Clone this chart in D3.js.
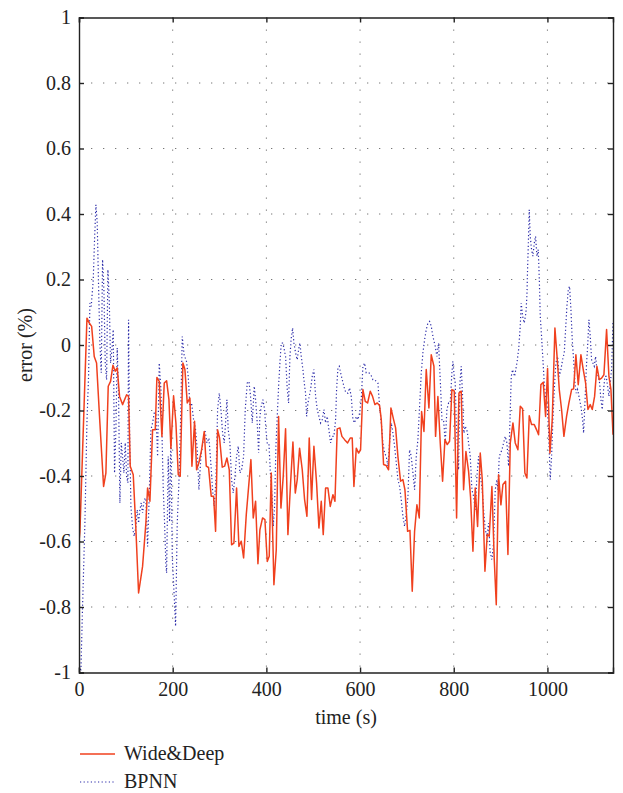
<!DOCTYPE html>
<html><head><meta charset="utf-8">
<script src="https://cdn.jsdelivr.net/npm/d3@7"></script>
<style>body{margin:0;background:#fff}svg{display:block}text{font-family:"Liberation Serif","DejaVu Serif",serif;fill:#222}</style>
</head><body><svg id="c" width="623" height="793"></svg>
<script>
const xTicks = [0, 200, 400, 600, 800, 1000];
const yTicks = [-1, -0.8, -0.6, -0.4, -0.2, 0, 0.2, 0.4, 0.6, 0.8, 1];
const seriesNames = ["Wide&Deep", "BPNN"];

const wdTime = [0,2,17,22,27,32.5,37.5,44.6,52.5,57.4,62.4,67.4,72.4,77.4,81.6,86.6,93,101.6,105.8,109.4,115.8,121.5,127.2,135.7,142.8,146.4,151.4,157.1,162.8,166.3,171.3,177,182,187,192,196.2,201.9,206.9,211.9,216.1,221.8,226.1,231.1,236.8,241.1,246.7,251,256.7,261.7,267.4,271.7,276.6,282.3,287.3,291.6,295.9,300.1,305.8,310.8,315.8,320.8,325.7,330.7,336.4,341.4,346.4,351.4,357.1,367,372,377,382,386.2,391.9,396.9,401.9,406.1,410.4,416.1,421.1,426.1,431.1,436,441,446,451.7,456.7,461.7,465.9,470.9,476.6,481.6,486.6,491.5,496.5,501.5,507.2,512.2,517.2,521.4,526.4,531.4,536.4,542.1,546.4,551.3,557,561.3,567,573.4,579.1,583.3,586.9,591.9,596.9,601.1,606.1,611.1,616.1,621.8,626.7,631.7,636.7,641.7,645.3,650.2,655.9,660.9,665.9,671.6,675.9,680.8,686.5,691.5,695.8,701.5,706.5,711.4,716.4,721.4,726.4,731.4,736.4,741.3,747,752,757.7,761.2,766.2,771.2,776.2,781.2,786.1,791.1,796.1,801.1,806.1,811.1,816,821,826,831.7,836,841,845.9,850.9,856.6,860.9,866.6,871.5,875.8,881.5,886.5,890.8,895.7,900.7,905,910.7,915.7,920.7,926.4,931.3,937,942,947,951.9,956.2,961.2,966.2,971.9,976.9,981.1,986.1,991.1,996.1,1000.3,1005.3,1010.3,1016,1020.3,1025.3,1030.2,1035.2,1040.9,1045.9,1051.6,1055.9,1060.8,1065.8,1071.5,1076.5,1081.5,1086.5,1091.4,1095.7,1100.7,1105.7,1110.7,1115.6,1120.6,1126.3,1131.3,1135.6,1140];
const wdError = [-0.6,-0.569,0.082,0.067,0.057,-0.035,-0.055,-0.238,-0.432,-0.391,-0.126,-0.111,-0.062,-0.08,-0.07,-0.157,-0.182,-0.152,-0.157,-0.37,-0.396,-0.564,-0.757,-0.676,-0.543,-0.437,-0.477,-0.259,-0.259,-0.099,-0.111,-0.279,-0.116,-0.109,-0.167,-0.315,-0.155,-0.238,-0.396,-0.401,-0.055,-0.075,-0.177,-0.162,-0.37,-0.233,-0.381,-0.355,-0.32,-0.264,-0.37,-0.374,-0.462,-0.462,-0.569,-0.259,-0.284,-0.373,-0.37,-0.345,-0.381,-0.61,-0.605,-0.437,-0.615,-0.599,-0.65,-0.518,-0.35,-0.528,-0.477,-0.668,-0.564,-0.528,-0.533,-0.661,-0.645,-0.391,-0.732,-0.625,-0.218,-0.498,-0.401,-0.256,-0.579,-0.421,-0.296,-0.452,-0.411,-0.315,-0.381,-0.472,-0.523,-0.284,-0.472,-0.309,-0.421,-0.559,-0.477,-0.579,-0.437,-0.437,-0.493,-0.457,-0.477,-0.256,-0.253,-0.279,-0.289,-0.299,-0.284,-0.284,-0.432,-0.315,-0.33,-0.32,-0.136,-0.172,-0.177,-0.141,-0.157,-0.182,-0.177,-0.185,-0.228,-0.365,-0.368,-0.381,-0.192,-0.228,-0.253,-0.34,-0.416,-0.411,-0.442,-0.569,-0.566,-0.752,-0.569,-0.488,-0.528,-0.203,-0.264,-0.075,-0.192,-0.03,-0.065,-0.279,-0.157,-0.299,-0.416,-0.289,-0.304,-0.294,-0.136,-0.141,-0.528,-0.147,-0.141,-0.442,-0.325,-0.386,-0.467,-0.63,-0.437,-0.554,-0.33,-0.411,-0.691,-0.579,-0.584,-0.432,-0.655,-0.793,-0.396,-0.488,-0.426,-0.416,-0.64,-0.299,-0.238,-0.299,-0.32,-0.187,-0.195,-0.391,-0.406,-0.216,-0.243,-0.243,-0.259,-0.274,-0.121,-0.114,-0.218,-0.072,-0.33,-0.228,0.052,-0.03,-0.136,-0.197,-0.279,-0.218,-0.177,-0.136,-0.134,-0.03,-0.121,-0.03,-0.075,-0.116,-0.197,-0.182,-0.197,-0.157,-0.065,-0.106,-0.101,-0.091,0.047,-0.096,-0.136,-0.274];

const bpTime = [2,4.1,7.6,12.6,16.9,20.4,23.3,26.1,30.4,33.2,36.1,38.9,41.8,44.6,47.5,50.3,53.2,56,58.9,61.7,64.6,67.4,70.2,73.1,75.9,78.8,81.6,84.5,87.3,90.2,93,95.9,98.7,101.6,104.4,105.8,108,110.8,114.4,117.9,121.5,124.3,127.2,130,132.9,135.7,139.3,142.8,146.4,149.9,153.5,157.1,160.6,164.2,167.8,171.3,174.9,177,179.9,182.7,185.5,187,190.5,193.4,196.2,199.1,202.6,206.2,209.7,213.3,216.8,220.4,224.7,229,233.2,236.8,240.3,244.6,248.9,252.4,256,260.3,264.5,268.8,273.1,277.4,280.9,285.2,288.7,292.3,295.9,299.4,303,306.5,310.1,312.9,315.8,318.6,322.2,325.7,329.3,332.9,336.4,340,343.5,347.1,351.4,354.9,359.2,362.8,366.3,369.9,374.1,377,380.5,383.4,386.2,389.1,392.6,396.2,399,401.9,405.4,409,412.5,414.7,417.5,420.4,423.2,426.1,428.9,431.8,434.6,437.5,441,444.6,447.4,450.3,453.1,456,458.8,462.4,465.9,468.8,471.6,474.5,478,480.9,483.7,485.9,488.7,491.5,494.4,497.9,501.5,505.1,508.6,512.2,515.7,519.3,522.9,526.4,530,533.5,537.1,540.7,544.2,547.8,549.9,552.8,555.6,558.5,562,565.6,567,570.5,574.1,577.6,581.2,584.8,588.3,591.9,595.4,599,602.5,606.1,609.7,613.2,618.9,623.2,627.5,631,634.6,638.1,641.7,645.3,648.8,652.4,655.9,659.5,663,666.6,670.2,673.7,677.3,680.8,684.4,687.9,691.5,695.1,698.6,702.2,705.7,709.3,712.9,716.4,720,723.5,727.1,730.7,734.2,737.8,741.3,744.9,748.5,752,755.6,760.5,764.1,767.6,771.2,774.8,778.3,781.9,785.4,789,792.5,796.1,798.2,801.1,803.2,805.4,807.5,810.3,813.2,816,818.9,821.7,824.6,828.8,831.7,835.3,838.8,842.4,845.9,849.5,853,856.6,860.2,863.7,867.3,870.8,874.4,877.9,881.5,885.1,888.6,892.2,894.3,897.2,900,902.9,906.4,910,913.5,917.1,919.9,922.8,925.6,929.9,934.9,938.5,942,944.1,947,950.5,954.1,956.2,957.6,959.1,961.2,963.3,966.2,969,971.9,974.7,977.6,980.4,982.5,984.7,987.5,990.4,993.2,996.1,998.9,1001.8,1003.9,1006,1008.9,1011.7,1014.6,1018.1,1021.7,1025.3,1028.8,1032.4,1035.9,1038.8,1041.6,1044.5,1047.3,1050.2,1053,1055.9,1058.7,1061.5,1064.4,1068,1071.5,1075.1,1077.2,1080.1,1082.9,1085.8,1088.6,1091.4,1094.3,1097.1,1100,1102.8,1105.7,1108.5,1111.4,1114.2,1117.1,1119.9,1122.8,1125.6,1128.5,1131.3,1134.2,1137,1139.9];
const bpError = [-0.99,-0.991,-0.798,-0.544,-0.238,-0.096,0.128,0.118,0.199,0.322,0.428,0.373,0.179,0.006,-0.085,0.261,0.169,-0.055,-0.106,0.23,0.138,-0.055,-0.014,0.047,-0.391,-0.259,-0.009,-0.157,-0.482,-0.299,-0.34,-0.391,-0.299,-0.401,-0.421,0.077,-0.259,-0.493,-0.559,-0.584,-0.554,-0.503,-0.544,-0.503,-0.482,-0.513,-0.472,-0.467,-0.615,-0.462,-0.259,-0.238,-0.208,-0.208,-0.34,-0.055,-0.136,-0.259,-0.442,-0.544,-0.671,-0.696,-0.34,-0.54,-0.26,-0.645,-0.747,-0.859,-0.544,-0.421,-0.238,0.026,-0.035,-0.045,-0.096,-0.187,-0.177,-0.228,-0.259,-0.32,-0.442,-0.34,-0.299,-0.259,-0.299,-0.284,-0.35,-0.442,-0.493,-0.411,-0.197,-0.147,-0.197,-0.269,-0.299,-0.238,-0.167,-0.259,-0.299,-0.411,-0.452,-0.401,-0.34,-0.309,-0.391,-0.381,-0.34,-0.197,-0.116,-0.111,-0.157,-0.238,-0.126,-0.167,-0.238,-0.33,-0.218,-0.187,-0.167,-0.197,-0.259,-0.299,-0.299,-0.401,-0.472,-0.554,-0.493,-0.309,-0.218,-0.126,-0.055,0.006,0.006,-0.009,-0.035,-0.136,-0.177,-0.035,0.021,0.052,0.006,-0.024,-0.045,-0.014,0.006,-0.035,-0.075,-0.116,-0.147,-0.218,-0.177,-0.157,-0.136,-0.096,-0.075,-0.157,-0.197,-0.218,-0.238,-0.228,-0.197,-0.238,-0.218,-0.259,-0.299,-0.279,-0.279,-0.228,-0.136,-0.07,-0.065,-0.085,-0.106,-0.126,-0.136,-0.147,-0.147,-0.131,-0.157,-0.228,-0.238,-0.218,-0.228,-0.208,-0.167,-0.065,-0.055,-0.085,-0.085,-0.091,-0.106,-0.106,-0.111,-0.116,-0.187,-0.238,-0.299,-0.33,-0.34,-0.37,-0.299,-0.238,-0.269,-0.309,-0.36,-0.411,-0.432,-0.472,-0.523,-0.554,-0.518,-0.462,-0.32,-0.34,-0.391,-0.442,-0.34,-0.289,-0.187,-0.085,-0.024,0.016,0.047,0.067,0.072,0.057,0.026,-0.004,-0.035,0.006,-0.106,-0.228,-0.228,-0.299,-0.197,-0.177,-0.177,-0.085,-0.05,-0.096,-0.116,-0.238,-0.299,-0.381,-0.116,-0.065,-0.157,-0.269,-0.248,-0.264,-0.299,-0.34,-0.442,-0.462,-0.503,-0.401,-0.34,-0.401,-0.432,-0.503,-0.564,-0.584,-0.544,-0.635,-0.655,-0.605,-0.442,-0.411,-0.442,-0.34,-0.33,-0.32,-0.299,-0.279,-0.299,-0.37,-0.238,-0.096,-0.075,-0.096,-0.055,-0.014,0.057,0.128,0.088,0.067,0.098,0.149,0.23,0.301,0.413,0.332,0.291,0.271,0.311,0.332,0.271,0.291,0.21,0.088,0.026,-0.045,-0.116,-0.157,-0.177,-0.238,-0.32,-0.411,-0.34,-0.228,-0.136,-0.055,-0.035,-0.096,-0.075,-0.045,-0.024,0.047,0.118,0.169,0.179,0.108,0.016,-0.045,-0.116,-0.147,-0.136,-0.162,-0.187,-0.228,-0.269,-0.177,-0.075,-0.004,0.077,0.026,-0.045,-0.055,-0.065,-0.035,-0.075,-0.096,-0.116,-0.167,-0.197,-0.136,-0.096,-0.096,-0.126,-0.157,-0.116,-0.075,0.067];

const svg = d3.select("#c");
const L = 79, R = 613, T = 17.5, B = 672.5;
const x = d3.scaleLinear().domain([0, 1140]).range([L, R]);
const y = d3.scaleLinear().domain([-1, 1]).range([B, T]);
const FONT = '"Liberation Serif","Times New Roman",serif';
const fs = "20px";

// grid
const g = svg.append("g");
g.selectAll(".vg").data(xTicks.filter(d => d > 0)).enter().append("line")
  .attr("x1", d => x(d)).attr("x2", d => x(d)).attr("y1", T).attr("y2", B)
  .attr("stroke", "#777").attr("stroke-width", 1).attr("stroke-dasharray", "1.3,10.7");
g.selectAll(".hg").data(yTicks.filter(d => d > -1 && d < 1)).enter().append("line")
  .attr("y1", d => y(d)).attr("y2", d => y(d)).attr("x1", L).attr("x2", R)
  .attr("stroke", "#777").attr("stroke-width", 1).attr("stroke-dasharray", "1.3,10.7");

// series
const line = d3.line().x(d => x(d[0])).y(d => y(d[1]));
svg.append("clipPath").attr("id", "cp").append("rect").attr("x", L).attr("y", T).attr("width", R - L).attr("height", B - T);
svg.append("path").datum(bpTime.map((t, i) => [t, bpError[i]]))
  .attr("d", line).attr("fill", "none").attr("stroke", "#2a2aa8").attr("stroke-width", 1.2)
  .attr("stroke-dasharray", "1.2,2.4").attr("clip-path", "url(#cp)");
svg.append("path").datum(wdTime.map((t, i) => [t, wdError[i]]))
  .attr("d", line).attr("fill", "none").attr("stroke", "#f0401e").attr("stroke-width", 1.5)
  .attr("stroke-linejoin", "round").attr("clip-path", "url(#cp)");

// axes
const ax = svg.append("g").attr("transform", `translate(0,${B})`)
  .call(d3.axisBottom(x).tickValues(xTicks).tickSize(-5).tickPadding(9).tickFormat(d3.format("d")));
const ay = svg.append("g").attr("transform", `translate(${L},0)`)
  .call(d3.axisLeft(y).tickValues(yTicks).tickSize(-5).tickPadding(8).tickFormat(d => String(+d.toFixed(1))));
const at = svg.append("g").attr("transform", `translate(0,${T})`)
  .call(d3.axisTop(x).tickValues(xTicks).tickSize(-5).tickFormat(""));
const ar = svg.append("g").attr("transform", `translate(${R},0)`)
  .call(d3.axisRight(y).tickValues(yTicks).tickSize(-5).tickFormat(""));
[ax, ay, at, ar].forEach(a => {
  a.attr("font-family", FONT).attr("font-size", fs);
  a.select(".domain").attr("stroke", "#222").attr("stroke-width", 1.4);
  a.selectAll(".tick line").attr("stroke", "#222").attr("stroke-width", 1.4);
  a.selectAll("text").attr("fill", "#222");
});

svg.append("text").attr("x", (L + R) / 2).attr("y", 724).attr("text-anchor", "middle")
  .attr("font-family", FONT).attr("font-size", fs).text("time (s)");
svg.append("text").attr("transform", `translate(32,${(T + B) / 2}) rotate(-90)`).attr("text-anchor", "middle")
  .attr("font-family", FONT).attr("font-size", fs).text("error (%)");

// legend
const lg = svg.append("g");
const colors = ["#f0401e", "#2a2aa8"];
seriesNames.forEach((n, i) => {
  const yy = 754 + i * 28;
  lg.append("line").attr("x1", 80).attr("x2", 115).attr("y1", yy).attr("y2", yy)
    .attr("stroke", colors[i]).attr("stroke-width", i ? 1.2 : 1.5).attr("stroke-dasharray", i ? "1.2,2.4" : null);
  lg.append("text").attr("x", 124).attr("y", yy).attr("dy", "0.32em")
    .attr("font-family", FONT).attr("font-size", fs).text(n);
});
</script></body></html>
